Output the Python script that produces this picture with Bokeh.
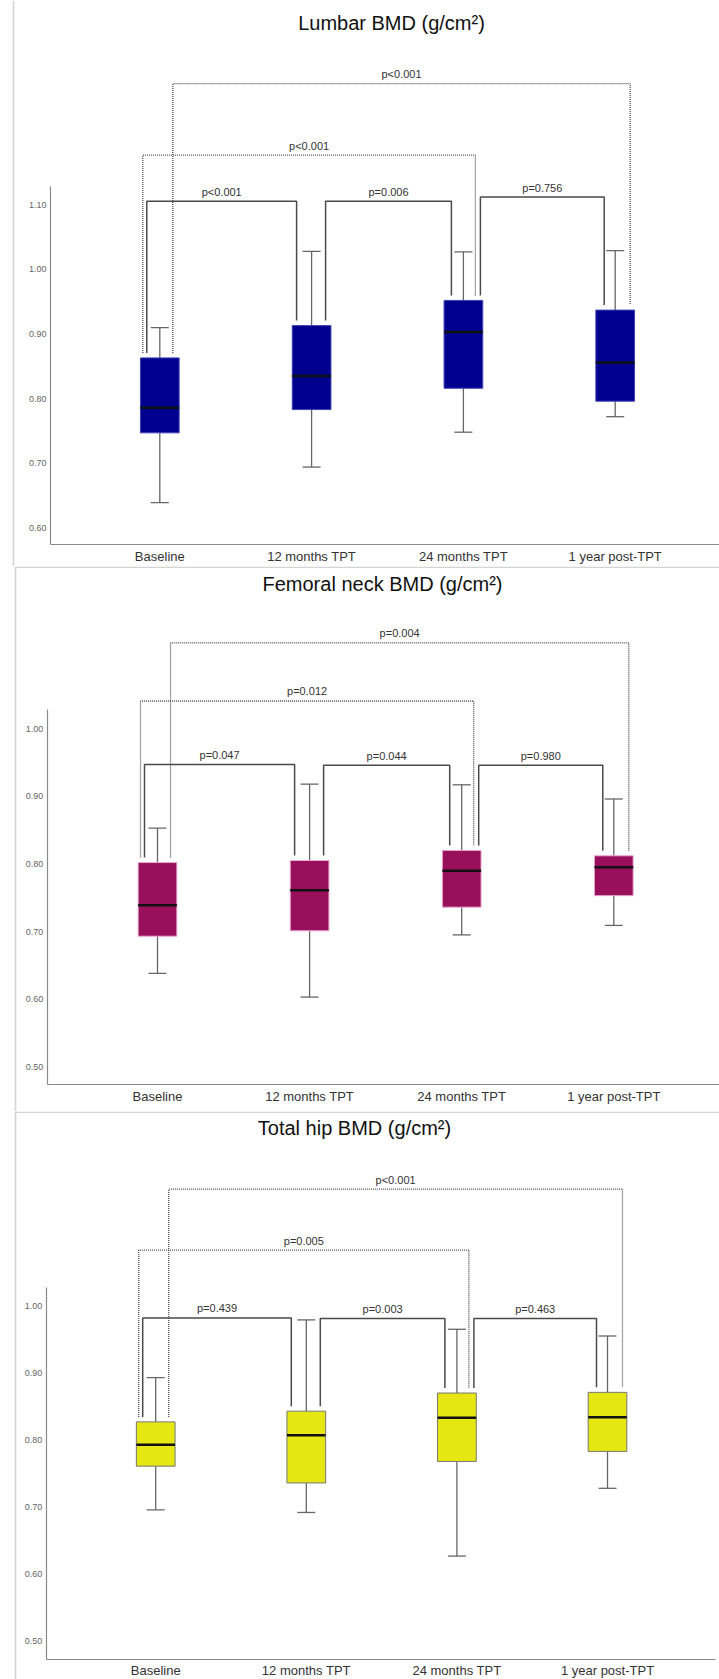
from bokeh.plotting import figure
from bokeh.models import Range1d, LinearAxis, FixedTicker, NumeralTickFormatter, Label, ColumnDataSource
from bokeh.layouts import column
from bokeh.embed import file_html
from bokeh.resources import INLINE
from bokeh.core.properties import value

categories = ["Baseline", "12 months TPT", "24 months TPT", "1 year post-TPT"]

# Lumbar spine BMD (g/cm2): whisker ends, quartiles, median
lumbar_low = [0.639, 0.694, 0.748, 0.772]
lumbar_q1 = [0.747, 0.783, 0.816, 0.796]
lumbar_median = [0.786, 0.835, 0.903, 0.856]
lumbar_q3 = [0.863, 0.913, 0.952, 0.937]
lumbar_high = [0.910, 1.028, 1.027, 1.029]
lumbar_ticks = [0.60, 0.70, 0.80, 0.90, 1.00, 1.10]

# Femoral neck BMD (g/cm2)
neck_low = [0.638, 0.603, 0.695, 0.709]
neck_q1 = [0.693, 0.701, 0.736, 0.753]
neck_median = [0.739, 0.761, 0.790, 0.795]
neck_q3 = [0.802, 0.805, 0.820, 0.812]
neck_high = [0.853, 0.918, 0.917, 0.896]
neck_ticks = [0.50, 0.60, 0.70, 0.80, 0.90, 1.00]

# Total hip BMD (g/cm2)
hip_low = [0.696, 0.692, 0.627, 0.728]
hip_q1 = [0.761, 0.736, 0.768, 0.783]
hip_median = [0.793, 0.807, 0.833, 0.834]
hip_q3 = [0.827, 0.843, 0.870, 0.871]
hip_high = [0.893, 0.979, 0.965, 0.955]
hip_ticks = [0.50, 0.60, 0.70, 0.80, 0.90, 1.00]

# Pairwise comparisons (group indices) and their p-values
comparisons = [(0, 1), (1, 2), (2, 3), (0, 2), (0, 3)]
lumbar_p = ["p<0.001", "p=0.006", "p=0.756", "p<0.001", "p<0.001"]
neck_p = ["p=0.047", "p=0.044", "p=0.980", "p=0.012", "p=0.004"]
hip_p = ["p=0.439", "p=0.003", "p=0.463", "p=0.005", "p<0.001"]

# ---- layout / styling -------------------------------------------------------
WIDTH = 719
FONT = "Liberation Sans"
DOTTED = [False, False, False, True, True]
# horizontal offsets (px) of each bracket's two legs from the box centres
LEG_PX = [(-13, -15), (14, -12), (17, -11), (-17, 12), (13, 15)]
BOX_PX = 38.7
CAP_PX = 18
LEG_GAP_PX = 5

layouts = [
    dict(height=566, x0=159.3, step=151.8, yref=(1.10, 204.3), k=646.0,
         axis_x=50, axis_top=1.128, axis_bottom_px=544, axis_right=719,
         title_px=(391, 22), border_x=13, top_border=False,
         levels=[1.1056, 1.1056, 1.112, 1.177, 1.2875],
         fill="#00008f", edge="#4040b8"),
    dict(height=545, x0=157.0, step=152.1, yref=(1.00, 162.2), k=676.0,
         axis_x=46.7, axis_top=1.029, axis_bottom_px=518, axis_right=719,
         title_px=(382, 17), border_x=15, top_border=True,
         levels=[0.947, 0.946, 0.946, 1.041, 1.127],
         fill="#98105c", edge="#e8a8d0"),
    dict(height=568, x0=155.2, step=150.6, yref=(1.00, 194.3), k=671.0,
         axis_x=45.8, axis_top=1.028, axis_bottom_px=547.7, axis_right=715,
         title_px=(354, 16.7), border_x=15, top_border=True,
         levels=[0.982, 0.981, 0.981, 1.083, 1.174],
         fill="#e6e612", edge="#777777"),
]


def make_panel(title, low, q1, med, q3, high, ticks, pvals, lay):
    H = lay["height"]
    v_ref, px_ref = lay["yref"]
    k = lay["k"]

    def X(px):
        return (px - lay["x0"]) / lay["step"]

    def Y(py):
        return v_ref - (py - px_ref) / k

    x_range = Range1d(X(0), X(WIDTH))
    y_range = Range1d(Y(H), Y(0))

    p = figure(width=WIDTH, height=H, x_range=x_range, y_range=y_range,
               x_axis_type=None, y_axis_type=None, toolbar_location=None,
               output_backend="svg", min_border=0, min_border_left=0,
               min_border_right=0, min_border_top=0, min_border_bottom=0,
               outline_line_color=None, background_fill_color="white",
               border_fill_color="white")

    xs = list(range(len(categories)))
    half_box = BOX_PX / lay["step"] / 2
    half_cap = CAP_PX / lay["step"] / 2

    # panel frame lines
    bx = X(lay["border_x"])
    p.segment(x0=[bx], y0=[Y(0)], x1=[bx], y1=[Y(H)], line_color="#d4d4d4", line_width=1.6)
    if lay["top_border"]:
        p.segment(x0=[bx], y0=[Y(0.8)], x1=[X(WIDTH)], y1=[Y(0.8)], line_color="#d4d4d4", line_width=1.6)

    src = ColumnDataSource(dict(x=xs, low=low, q1=q1, med=med, q3=q3, high=high,
                                xl=[x - half_box for x in xs], xr=[x + half_box for x in xs],
                                cl=[x - half_cap for x in xs], cr=[x + half_cap for x in xs]))

    # whiskers and caps
    p.segment(x0="x", y0="q3", x1="x", y1="high", source=src, line_color="#666666", line_width=1.3)
    p.segment(x0="x", y0="q1", x1="x", y1="low", source=src, line_color="#666666", line_width=1.3)
    p.segment(x0="cl", y0="high", x1="cr", y1="high", source=src, line_color="#666666", line_width=1.3)
    p.segment(x0="cl", y0="low", x1="cr", y1="low", source=src, line_color="#666666", line_width=1.3)

    # boxes and medians
    p.vbar(x="x", width=2 * half_box, bottom="q1", top="q3", source=src,
           fill_color=lay["fill"], line_color=lay["edge"], line_width=1)
    p.segment(x0="xl", y0="med", x1="xr", y1="med", source=src, line_color="#111111", line_width=2.5)

    # comparison brackets
    gap = LEG_GAP_PX / k
    for (i, j), ptxt, level, dotted, (li, lj) in zip(comparisons, pvals, lay["levels"], DOTTED, LEG_PX):
        xa = i + li / lay["step"]
        xb = j + lj / lay["step"]
        color = "#505050" if dotted else "#4a4a4a"
        kw = dict(line_color=color, line_width=1.3 if dotted else 1.5)
        if dotted:
            kw["line_dash"] = "1 1"
        p.line(x=[xa, xa, xb, xb], y=[q3[i] + gap, level, level, q3[j] + gap], **kw)
        p.text(x=[(xa + xb) / 2], y=[level], text=[ptxt], text_align="center",
               text_baseline="middle", y_offset=-9.5, text_font=value(FONT),
               text_font_size="11px", text_color="#333333")

    # title
    tx, ty = lay["title_px"]
    p.add_layout(Label(x=X(tx), y=Y(ty), text=title, text_align="center",
                       text_baseline="middle", text_font=FONT, text_font_size="20px",
                       text_color="#111111"))

    # axes drawn at fixed positions inside the frame
    y_bottom = Y(lay["axis_bottom_px"])
    x_left = X(lay["axis_x"])
    yaxis = LinearAxis(fixed_location=x_left, bounds=(y_bottom, lay["axis_top"]),
                       ticker=FixedTicker(ticks=ticks),
                       formatter=NumeralTickFormatter(format="0.00"))
    yaxis.axis_line_color = "#8a8a8a"
    yaxis.axis_line_width = 1.2
    yaxis.major_tick_line_color = None
    yaxis.minor_tick_line_color = None
    yaxis.major_tick_out = 0
    yaxis.major_tick_in = 0
    yaxis.major_label_standoff = 4
    yaxis.major_label_text_font = FONT
    yaxis.major_label_text_font_size = "9px"
    yaxis.major_label_text_color = "#666666"
    p.add_layout(yaxis, "left")

    xaxis = LinearAxis(fixed_location=y_bottom, bounds=(x_left, X(lay["axis_right"])),
                       ticker=FixedTicker(ticks=xs),
                       major_label_overrides={i: c for i, c in enumerate(categories)})
    xaxis.axis_line_color = "#8a8a8a"
    xaxis.axis_line_width = 1.2
    xaxis.major_tick_line_color = None
    xaxis.minor_tick_line_color = None
    xaxis.major_tick_out = 0
    xaxis.major_tick_in = 0
    xaxis.major_label_standoff = 4
    xaxis.major_label_text_font = FONT
    xaxis.major_label_text_font_size = "13px"
    xaxis.major_label_text_color = "#333333"
    p.add_layout(xaxis, "below")
    return p


p1 = make_panel("Lumbar BMD (g/cm²)", lumbar_low, lumbar_q1, lumbar_median, lumbar_q3,
                lumbar_high, lumbar_ticks, lumbar_p, layouts[0])
p2 = make_panel("Femoral neck BMD (g/cm²)", neck_low, neck_q1, neck_median, neck_q3,
                neck_high, neck_ticks, neck_p, layouts[1])
p3 = make_panel("Total hip BMD (g/cm²)", hip_low, hip_q1, hip_median, hip_q3,
                hip_high, hip_ticks, hip_p, layouts[2])

page = column(p1, p2, p3, spacing=0)
open("out.html", "w").write(file_html(page, INLINE))
